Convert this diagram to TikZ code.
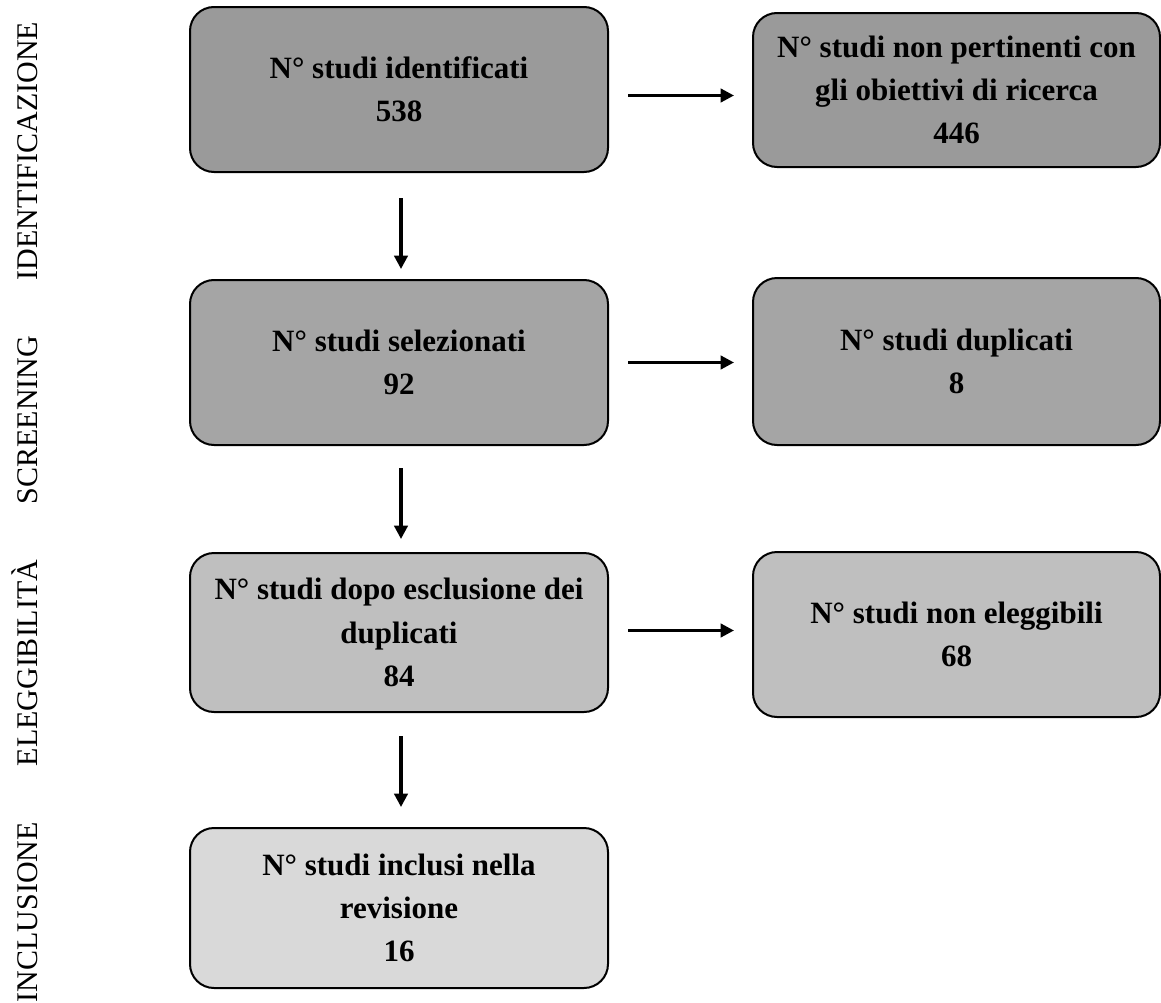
\documentclass[tikz,border=0pt]{standalone}
\usepackage{fontspec}
\setmainfont{Liberation Serif}
\usetikzlibrary{arrows.meta}
\definecolor{gA}{HTML}{9A9A9A}
\definecolor{gB}{HTML}{A5A5A5}
\definecolor{gC}{HTML}{BFBFBF}
\definecolor{gD}{HTML}{D9D9D9}
\begin{document}
\begin{tikzpicture}[x=0.75pt,y=-0.75pt,
  box/.style={draw=black, line width=1.5pt, rounded corners=18pt, align=center, inner sep=0pt,
    font=\fontsize{23.25pt}{32.5pt}\selectfont\bfseries},
  lbox/.style={box, minimum width=313.5pt},
  rbox/.style={box, minimum width=305.25pt},
  arr/.style={line width=2.3pt, -{Triangle[length=10pt,width=10pt]}},
  phase/.style={rotate=90, anchor=base, inner sep=0pt, font=\fontsize{22.5pt}{27pt}\selectfont}]
\clip (0,0) rectangle (1161,1003);
% phase labels
\node[phase] (p1) at (37,151) {IDENTIFICAZIONE};
\node[phase] (p2) at (37,420) {SCREENING};
\node[phase] (p3) at (37,663) {ELEGGIBILITÀ};
\node[phase] (p4) at (37,912) {INCLUSIONE};
% left column
\node[lbox, fill=gA, minimum height=123.75pt] (b1) at (399,89.5) {N° studi identificati\\538};
\node[lbox, fill=gB, minimum height=123.75pt] (b2) at (399,362.5) {N° studi selezionati\\92};
\node[lbox, fill=gC, minimum height=119.25pt] (b3) at (399,632.5) {N° studi dopo esclusione dei\\duplicati\\84};
\node[lbox, fill=gD, minimum height=120pt] (b4) at (399,908) {N° studi inclusi nella\\revisione\\16};
% right column
\node[rbox, fill=gA, minimum height=115.5pt] (r1) at (956.5,90) {N° studi non pertinenti con\\gli obiettivi di ricerca\\446};
\node[rbox, fill=gB, minimum height=125.25pt] (r2) at (956.5,361.5) {N° studi duplicati\\8};
\node[rbox, fill=gC, minimum height=123.75pt] (r3) at (956.5,634.5) {N° studi non eleggibili\\68};
% vertical arrows
\draw[arr, shorten <=18.75pt, shorten >=7.5pt] ([xshift=1.5pt]b1.south) -- ([xshift=1.5pt]b2.north);
\draw[arr, shorten <=16.5pt, shorten >=9.75pt] ([xshift=1.5pt]b2.south) -- ([xshift=1.5pt]b3.north);
\draw[arr, shorten <=17.25pt, shorten >=15pt] ([xshift=1.5pt]b3.south) -- ([xshift=1.5pt]b4.north);
% horizontal arrows
\draw[arr, shorten <=14.25pt, shorten >=13.5pt] ([yshift=-4.5pt]b1.east) -- ([yshift=-4.5pt]b1.east -| r1.west);
\draw[arr, shorten <=14.25pt, shorten >=13.5pt] (b2.east) -- (b2.east -| r2.west);
\draw[arr, shorten <=14.25pt, shorten >=13.5pt] ([yshift=1.5pt]b3.east) -- ([yshift=1.5pt]b3.east -| r3.west);
\end{tikzpicture}
\end{document}
